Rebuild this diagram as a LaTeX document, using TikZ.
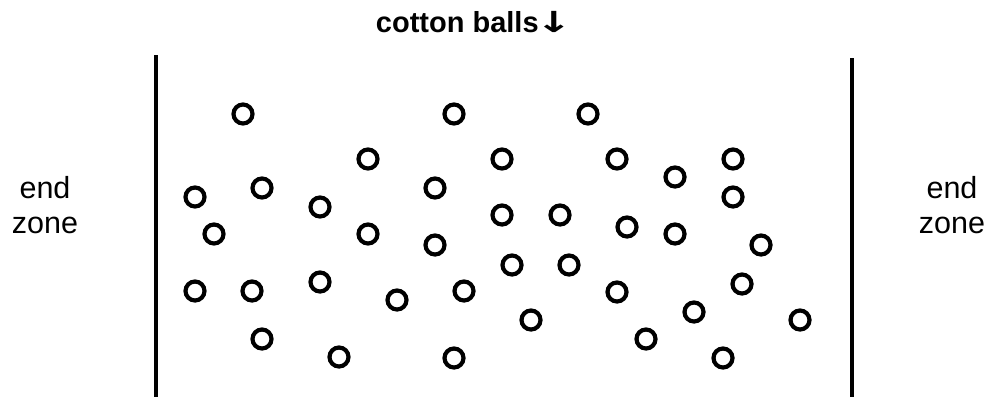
\documentclass[tikz,border=0pt]{standalone}
\usepackage{fontspec}
\usepackage{graphicx}
\setmainfont{Liberation Sans}
\newfontfamily\arrowfont{DejaVu Sans}
\tikzset{
  ball/.style={circle,draw=black,line width=4.2pt,minimum size=19pt,inner sep=0pt},
  wall/.style={line width=4.5pt,black},
  lbl/.style={align=center,font=\fontsize{30.5}{35}\selectfont,inner sep=0pt},
  ttl/.style={font=\fontsize{29}{34}\selectfont\bfseries,inner sep=0pt}
}
\begin{document}
\begin{tikzpicture}[x=1pt,y=-1pt]
\useasboundingbox[fill=white] (0,0) rectangle (995,400);
\node[ttl] (title) at (474,22) {cotton balls\kern-3pt\scalebox{1.5}[1.0]{\arrowfont\bfseries↓}};
\node[lbl] (lz) at (45,205) {end\\zone};
\node[lbl] (rz) at (952,205) {end\\zone};
\coordinate (lt) at (156,55);
\coordinate (lb) at (156,397);
\coordinate (rt) at (852,58);
\coordinate (rb) at (852,397);
\draw[wall] (lt) -- (lb);
\draw[wall] (rt) -- (rb);
\foreach \i/\x/\y in {1/243/114,2/454/114,3/588/114,4/368/159,5/502/159,6/617/159,7/733/159,
  8/195/197,9/262/188,10/320/207,11/435/188,12/675/177,13/733/197,14/214/234,15/368/234,
  16/435/245,17/502/215,18/560/215,19/627/227,20/675/234,21/761/245,22/512/265,23/569/265,
  24/195/291,25/252/291,26/320/282,27/397/300,28/464/291,29/617/292,30/742/284,31/694/312,
  32/531/320,33/800/320,34/262/339,35/646/339,36/339/357,37/454/358,38/723/358}
  \node[ball] (b\i) at (\x,\y) {};
\end{tikzpicture}
\end{document}
